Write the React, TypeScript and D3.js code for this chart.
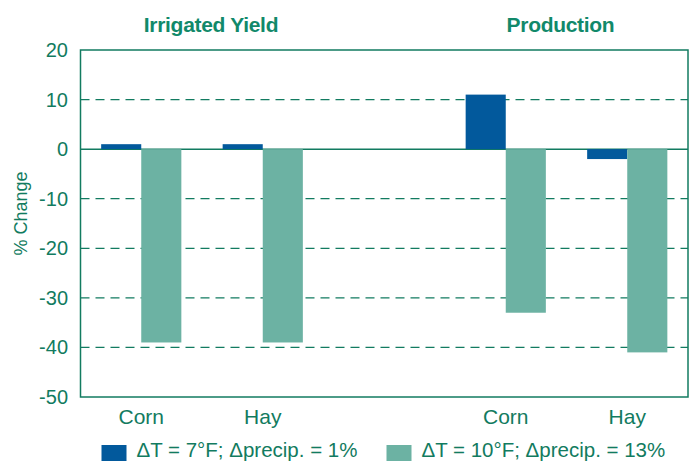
import * as d3 from 'd3'

// % change in irrigated yield and production for corn and hay, two climate scenarios
const slots = ['corn-y', 'hay-y', 'gap', 'corn-p', 'hay-p']
const slotLabels = ['Corn', 'Hay', '', 'Corn', 'Hay']
const seriesNames = ['ΔT = 7°F; Δprecip. = 1%', 'ΔT = 10°F; Δprecip. = 13%']
const seriesColors = ['#02599c', '#6cb2a3']
const scenarioA = [1, 1, null, 11, -2]
const scenarioB = [-39, -39, null, -33, -41]
const yTicks = [20, 10, 0, -10, -20, -30, -40, -50]
const groupTitles = ['Irrigated Yield', 'Production']
const groupSlots = [['corn-y', 'hay-y'], ['corn-p', 'hay-p']]

const W = 694, H = 461
const M = { top: 50, right: 6, bottom: 64, left: 80.5 }
const INK = '#127b60'
const FONT = '"Liberation Sans", Arial, Helvetica, sans-serif'
const titleNudge = [9, -6]

export default function App() {
  const x = d3.scaleBand<string>().domain(slots).range([M.left, W - M.right]).paddingInner(0.34).paddingOuter(0.17)
  const y = d3.scaleLinear().domain([-50, 20]).range([H - M.bottom, M.top])
  const sub = d3.scaleBand<number>().domain([0, 1]).range([0, x.bandwidth()])
  const values = [scenarioA, scenarioB]

  return (
    <svg width={W} height={H} style={{ position: 'absolute', left: 0, top: 0, fontFamily: FONT }}>
      {/* gridlines */}
      {yTicks.filter(t => t !== 20 && t !== -50 && t !== 0).map(t => (
        <line key={t} x1={M.left} x2={W - M.right} y1={y(t)} y2={y(t)}
          stroke={INK} strokeWidth={1.3} strokeDasharray="9,6" />
      ))}
      <line x1={M.left} x2={W - M.right} y1={y(0)} y2={y(0)} stroke={INK} strokeWidth={1.5} />

      {/* bars */}
      {values.map((vals, si) => slots.map((s, i) => {
        const v = vals[i]
        if (v == null) return null
        const x0 = (x(s) ?? 0) + (sub(si) ?? 0)
        return (
          <rect key={`${si}-${s}`} x={x0} width={sub.bandwidth()}
            y={Math.min(y(v), y(0))} height={Math.abs(y(v) - y(0))} fill={seriesColors[si]} />
        )
      }))}

      {/* frame */}
      <rect x={M.left} y={M.top} width={W - M.right - M.left} height={H - M.bottom - M.top}
        fill="none" stroke={INK} strokeWidth={1.5} />

      {/* y ticks */}
      {yTicks.map(t => (
        <text key={t} x={68} y={y(t) + 7} textAnchor="end" fontSize={20} fill={INK}>{t}</text>
      ))}
      <text transform={`translate(27,${(M.top + H - M.bottom) / 2 - 10}) rotate(-90)`}
        textAnchor="middle" fontSize={18} fill={INK}>% Change</text>

      {/* category labels */}
      {slots.map((s, i) => slotLabels[i] && (
        <text key={s} x={(x(s) ?? 0) + x.bandwidth() / 2} y={424} textAnchor="middle" fontSize={21} fill={INK}>
          {slotLabels[i]}
        </text>
      ))}

      {/* group titles */}
      {groupTitles.map((label, gi) => {
        const cx = d3.mean(groupSlots[gi], s => (x(s) ?? 0) + x.bandwidth() / 2) ?? 0
        return (
          <text key={label} x={cx + titleNudge[gi]} y={31.5} textAnchor="middle" fontSize={21}
            fontWeight="bold" fill="#11896a" letterSpacing={-0.3}>
            {label}
          </text>
        )
      })}

      {/* legend */}
      {seriesNames.map((name, si) => {
        const lx = si === 0 ? 101.5 : 386.5
        return (
          <g key={name} transform={`translate(${lx},445)`}>
            <rect width={25} height={16} fill={seriesColors[si]} />
            <text x={35} y={12} fontSize={20.5} fill={INK}>{name}</text>
          </g>
        )
      })}
    </svg>
  )
}
